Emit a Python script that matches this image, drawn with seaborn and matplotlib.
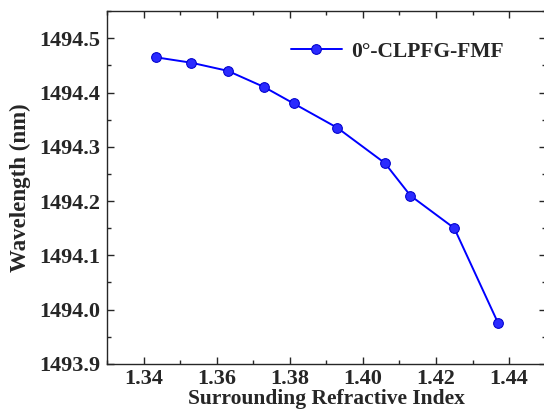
import matplotlib
matplotlib.use("Agg")
import matplotlib.pyplot as plt
import seaborn as sns
import pandas as pd
from matplotlib.ticker import MultipleLocator

# Data
refractive_index = [1.3433, 1.3530, 1.3630, 1.3730, 1.3810, 1.3930, 1.4060, 1.4130, 1.4250, 1.4370]
wavelength = [1494.465, 1494.455, 1494.440, 1494.410, 1494.380, 1494.335, 1494.270, 1494.210, 1494.150, 1493.975]
series_label = "0°-CLPFG-FMF"

df = pd.DataFrame({"ri": refractive_index, "wl": wavelength, "series": series_label})

sns.set_style("ticks")
plt.rcParams["font.family"] = ["Liberation Serif", "DejaVu Serif"]
plt.rcParams["font.weight"] = "bold"

fig = plt.figure(figsize=(5.44, 4.13), dpi=100)
ax = fig.add_axes([0.197, 0.119, 0.806, 0.854])

sns.lineplot(
    data=df, x="ri", y="wl", hue="series", palette=["#0000ff"],
    marker="o", markersize=7, markeredgecolor="#0000cc", markerfacecolor="#2a2aff",
    linewidth=1.4, ax=ax, sort=False,
)

ax.set_xlim(1.33, 1.45)
ax.set_ylim(1493.9, 1494.55)
ax.xaxis.set_major_locator(MultipleLocator(0.02))
ax.xaxis.set_minor_locator(MultipleLocator(0.01))
ax.yaxis.set_major_locator(MultipleLocator(0.1))
ax.yaxis.set_minor_locator(MultipleLocator(0.05))
ax.xaxis.set_major_formatter(matplotlib.ticker.FormatStrFormatter("%.2f"))
ax.yaxis.set_major_formatter(matplotlib.ticker.FormatStrFormatter("%.1f"))

ax.tick_params(which="both", direction="in", top=True, right=True, width=1.0)
ax.tick_params(which="major", length=5, labelsize=16)
ax.tick_params(axis="y", which="major", pad=5)
ax.tick_params(axis="x", which="major", pad=4)
ax.tick_params(which="minor", length=3)
for lab in ax.get_xticklabels() + ax.get_yticklabels():
    lab.set_fontweight("bold")
for s in ax.spines.values():
    s.set_linewidth(1.0)

ax.set_xlabel("Surrounding Refractive Index", fontsize=15.5, fontweight="bold", labelpad=0)
ax.set_ylabel("Wavelength (nm)", fontsize=16.5, fontweight="bold", labelpad=6)

leg = ax.legend(loc="upper right", frameon=False, fontsize=15.5, handlelength=2.4,
                handletextpad=0.4, bbox_to_anchor=(0.948, 0.968))
for t in leg.get_texts():
    t.set_fontweight("bold")

fig.savefig("out.png", dpi=100)
